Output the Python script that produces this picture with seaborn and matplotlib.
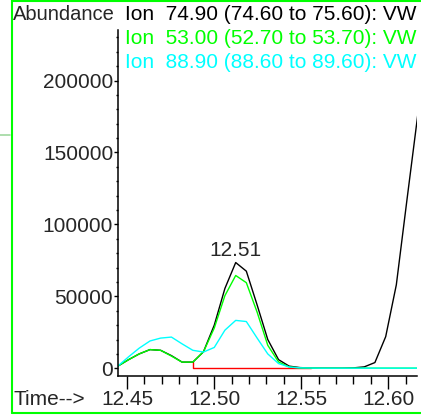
import numpy as np
import pandas as pd
import seaborn as sns
from matplotlib import pyplot as plt
from matplotlib.lines import Line2D
from matplotlib.ticker import MultipleLocator, FormatStrFormatter

# Scan times (min)
scan_time = [12.4447, 12.4509, 12.4570, 12.4632, 12.4693, 12.4755, 12.4816, 12.4878,
             12.4939, 12.5001, 12.5062, 12.5124, 12.5185, 12.5247, 12.5308, 12.5370,
             12.5431, 12.5493, 12.5554, 12.5616, 12.5677, 12.5739, 12.5800, 12.5862,
             12.5923, 12.5985, 12.6046, 12.6108, 12.6169]

# Extracted ion abundances
ion_749 = [1500, 6000, 10000, 13000, 12500, 8800, 4300, 4300,
           11500, 30000, 55500, 73500, 67500, 44000, 20000, 6000,
           1500, 500, 200, 100, 100, 100, 300, 1000,
           4000, 22000, 58000, 118000, 176000]
ion_530 = [1500, 6000, 10000, 13000, 12500, 8500, 4300, 4300,
           11500, 28000, 50500, 64500, 59500, 39000, 16000, 4400,
           900, 300, 200, 100, 100, 100, 100, 100,
           100, 100, 100, 100, 100]
ion_889 = [1500, 8000, 14000, 19000, 21000, 21700, 17000, 12500,
           11300, 14500, 26500, 33300, 32500, 21000, 10000, 3300,
           900, 300, 200, 100, 100, 100, 100, 100,
           100, 100, 100, 100, 100]

ion_labels = ["Ion  74.90 (74.60 to 75.60): VW",
              "Ion  53.00 (52.70 to 53.70): VW",
              "Ion  88.90 (88.60 to 89.60): VW"]
ion_colors = ["#000000", "#00ff00", "#00ffff"]

# Integration baseline of the 74.90 peak
base_time = [12.4878, 12.4878, 12.5554]
base_abund = [4300, 0, 0]

df = pd.DataFrame({
    "time": scan_time * 3,
    "abundance": ion_749 + ion_530 + ion_889,
    "ion": [ion_labels[0]] * len(scan_time) + [ion_labels[1]] * len(scan_time) + [ion_labels[2]] * len(scan_time),
})

sns.set_style("ticks")
plt.rcParams['font.family'] = ['Liberation Sans', 'DejaVu Sans']

fig = plt.figure(figsize=(4.21, 4.15), dpi=100)
ax = fig.add_axes([118 / 421, 1 - 375.5 / 415, 299 / 421, 345.5 / 415])

sns.lineplot(x=base_time, y=base_abund, color="#ff0000", lw=1.0, estimator=None, sort=False, ax=ax)
sns.lineplot(data=df, x="time", y="abundance", hue="ion", hue_order=ion_labels,
             palette=ion_colors, lw=1.0, estimator=None, legend=False, ax=ax)

ax.set_xlim(12.44483, 12.61647)
ax.set_ylim(-5000, 235100)
ax.set_xlabel("")
ax.set_ylabel("")

ax.xaxis.set_major_locator(MultipleLocator(0.05))
ax.xaxis.set_minor_locator(MultipleLocator(0.01))
ax.xaxis.set_major_formatter(FormatStrFormatter('%.2f'))
ax.yaxis.set_major_locator(MultipleLocator(50000))
ax.yaxis.set_minor_locator(MultipleLocator(10000))
ax.yaxis.set_major_formatter(FormatStrFormatter('%d'))

ax.tick_params(axis='x', which='major', length=9.5, width=1, labelsize=15, pad=1, color='black')
ax.tick_params(axis='x', which='minor', length=6, width=1, color='black')
ax.tick_params(axis='y', which='major', length=3, width=1, labelsize=15, pad=0.5, color='black')
ax.tick_params(axis='y', which='minor', length=1.5, width=1, color='black')
for s in ['top', 'right']:
    ax.spines[s].set_visible(False)
for s in ['left', 'bottom']:
    ax.spines[s].set_linewidth(1.1)
    ax.spines[s].set_color('black')

# label of the main peak
peak = int(np.argmax(ion_749[:20]))
ax.annotate(f"{scan_time[peak]:.2f}", (scan_time[peak], ion_749[peak]),
            xytext=(0, 1.5), textcoords='offset points', ha='center', va='bottom', fontsize=15)

# header texts
fig.text(13 / 421, 1 - 15 / 415, "Abundance", fontsize=14.5, va='center', ha='left')
for i, (lab, col) in enumerate(zip(ion_labels, ion_colors)):
    fig.text(125 / 421, 1 - (15 + 23.5 * i) / 415, lab, color=col, fontsize=15, va='center', ha='left')
fig.text(13 / 421, 1 - 399 / 415, "Time-->", fontsize=15, va='center', ha='left')

# window frame
fig.add_artist(Line2D([11.5 / 421, 11.5 / 421], [1 - 413 / 415, 1], transform=fig.transFigure, color='#00ff00', lw=1.5))
fig.add_artist(Line2D([11.5 / 421, 1], [1 - 0.8 / 415, 1 - 0.8 / 415], transform=fig.transFigure, color='#00ff00', lw=1.5))
fig.add_artist(Line2D([11.5 / 421, 1], [1 - 413 / 415, 1 - 413 / 415], transform=fig.transFigure, color='#00ff00', lw=1.5))
fig.add_artist(Line2D([0, 10 / 421], [1 - 135 / 415, 1 - 135 / 415], transform=fig.transFigure, color='#a0d8a0', lw=1.2))

fig.savefig("out.png", dpi=100)
